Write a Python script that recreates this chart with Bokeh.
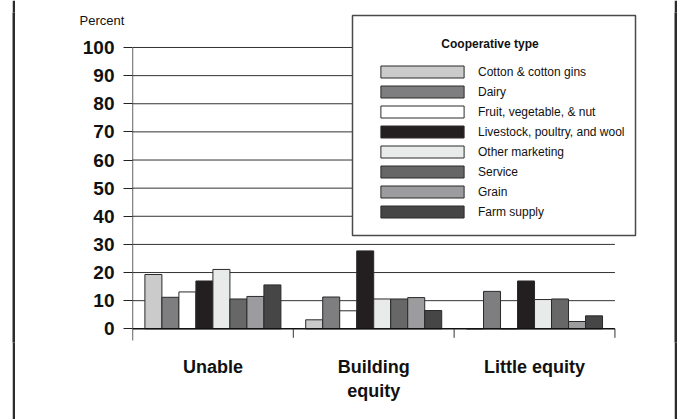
from bokeh.plotting import figure
from bokeh.layouts import row
from bokeh.models import (Range1d, FixedTicker, Legend, LegendItem, BoxAnnotation, Label, Spacer)
from bokeh.embed import file_html
from bokeh.resources import INLINE

# ---- data ----
categories = ["Unable", "Building\nequity", "Little equity"]
series_names = ["Cotton & cotton gins", "Dairy", "Fruit, vegetable, & nut",
                "Livestock, poultry, and wool", "Other marketing", "Service",
                "Grain", "Farm supply"]
cotton = [19.3, 3.2, 0.0]
dairy = [11.2, 11.3, 13.3]
fruit = [13.1, 6.4, 0.0]
livestock = [17.0, 27.7, 17.0]
other_marketing = [21.1, 10.6, 10.4]
service = [10.6, 10.6, 10.6]
grain = [11.5, 11.1, 2.6]
farm_supply = [15.6, 6.5, 4.6]
series_values = [cotton, dairy, fruit, livestock, other_marketing, service, grain, farm_supply]
y_ticks = [0, 10, 20, 30, 40, 50, 60, 70, 80, 90, 100]

colors = ["#cbcbcb", "#7e7e80", "#ffffff", "#231f20", "#e9ebea", "#676767", "#9c9c9e", "#464646"]

H = 419
W = 659
p = figure(width=W, height=H, output_backend="svg", toolbar_location=None,
           x_range=Range1d(0, 3.159), y_range=Range1d(-4.87, 112.44),
           min_border_left=117, min_border_right=34, min_border_top=12, min_border_bottom=77)
p.outline_line_color = None
p.grid.visible = False
p.background_fill_color = "white"
p.border_fill_color = "white"

# gridlines
gy = [t for t in y_ticks if t > 0]
p.segment(x0=[0] * len(gy), x1=[3] * len(gy), y0=gy, y1=gy, line_color="#333333", line_width=1)

# bars
n = len(series_names)
bw = 17 / 160.8
renderers = []
for j, (name, vals) in enumerate(zip(series_names, series_values)):
    xs = [i + 0.5 + (j - (n - 1) / 2) * bw for i in range(len(categories))]
    r = p.vbar(x=xs, top=vals, bottom=0, width=bw, fill_color=colors[j],
               line_color="#2a2a2a", line_width=1)
    renderers.append(r)

# axis lines and divider ticks
p.segment(x0=[0], x1=[3], y0=[0], y1=[0], line_color="#111111", line_width=1.5)
p.segment(x0=[0], x1=[0], y0=[-4.2], y1=[100], line_color="#111111", line_width=1.3)
p.segment(x0=[1, 2, 3], x1=[1, 2, 3], y0=[0, 0, 0], y1=[-3.2, -3.2, -3.2], line_color="#333333", line_width=1)

# y axis
ya = p.yaxis[0]
ya.ticker = FixedTicker(ticks=y_ticks)
ya.axis_line_color = None
ya.major_tick_out = 9
ya.major_tick_in = 0
ya.minor_tick_line_color = None
ya.major_tick_line_color = "#222222"
ya.major_label_standoff = 9
ya.major_label_text_font = "Liberation Sans"
ya.major_label_text_font_style = "bold"
ya.major_label_text_font_size = "19px"
ya.major_label_text_color = "#111111"

# x axis
xa = p.xaxis[0]
xa.ticker = FixedTicker(ticks=[0.5, 1.5, 2.5])
xa.major_label_overrides = {0.5: categories[0], 1.5: categories[1], 2.5: categories[2]}
xa.axis_line_color = None
xa.major_tick_line_color = None
xa.minor_tick_line_color = None
xa.major_tick_out = 0
xa.major_tick_in = 0
xa.major_label_standoff = 14
xa.major_label_text_font = "Liberation Sans"
xa.major_label_text_font_style = "bold"
xa.major_label_text_font_size = "18px"
xa.major_label_text_color = "#111111"

# legend box
lbox = BoxAnnotation(left=337, right=620, top=15, bottom=235,
                     left_units="canvas", right_units="canvas", top_units="canvas", bottom_units="canvas",
                     fill_color="white", fill_alpha=1, line_color="#4a4a4a", line_alpha=1, line_width=1.5)
p.add_layout(lbox)

legend = Legend(items=[LegendItem(label=nm, renderers=[r]) for nm, r in zip(series_names, renderers)],
                location=(238, 123), padding=0, margin=0, spacing=5,
                glyph_width=104, glyph_height=15, label_height=15, label_standoff=4,
                border_line_color=None, background_fill_alpha=0,
                label_text_font="Liberation Sans", label_text_font_size="12px",
                label_text_color="#111111")
p.add_layout(legend, "center")

title = Label(x=474.5, y=43, x_units="canvas", y_units="canvas", text="Cooperative type",
              text_align="center", text_baseline="middle", text_font="Liberation Sans",
              text_font_style="bold", text_font_size="12px", text_color="#111111")
p.add_layout(title)

pct = Label(x=86.5, y=20, x_units="canvas", y_units="canvas", text="Percent",
            text_align="center", text_baseline="middle", text_font="Liberation Sans",
            text_font_size="13px", text_color="#111111")
p.add_layout(pct, "left")


def edge_line():
    f = figure(width=3, height=H, output_backend="svg", toolbar_location=None,
               min_border=0, x_axis_location=None, y_axis_location=None)
    f.background_fill_color = "#2b2b2b"
    f.border_fill_color = "#2b2b2b"
    f.outline_line_color = None
    f.grid.visible = False
    return f


layout = row(Spacer(width=12, height=H), edge_line(), p, edge_line())

open("out.html", "w").write(file_html(layout, INLINE))
